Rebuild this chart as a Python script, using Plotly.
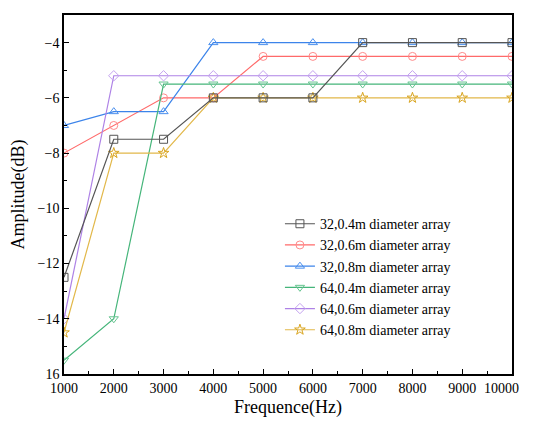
import plotly.graph_objects as go

freq = [1000, 2000, 3000, 4000, 5000, 6000, 7000, 8000, 9000, 10000]
names = ["32,0.4m diameter array", "32,0.6m diameter array", "32,0.8m diameter array",
         "64,0.4m diameter array", "64,0.6m diameter array", "64,0.8m diameter array"]
s32_04 = [-12.5, -7.5, -7.5, -6, -6, -6, -4, -4, -4, -4]
s32_06 = [-8, -7, -6, -6, -4.5, -4.5, -4.5, -4.5, -4.5, -4.5]
s32_08 = [-7, -6.5, -6.5, -4, -4, -4, -4, -4, -4, -4]
s64_04 = [-15.5, -14, -5.5, -5.5, -5.5, -5.5, -5.5, -5.5, -5.5, -5.5]
s64_06 = [-14, -5.2, -5.2, -5.2, -5.2, -5.2, -5.2, -5.2, -5.2, -5.2]
s64_08 = [-14.5, -8, -8, -6, -6, -6, -6, -6, -6, -6]
series = [s32_04, s32_06, s32_08, s64_04, s64_06, s64_08]

yticks = [-4, -6, -8, -10, -12, -14, -16]
ytick_text = ["\u22124", "\u22126", "\u22128", "\u221210", "\u221212", "\u221214", "16"]
xticks = freq
xtick_text = ["1000", "2000", "3000", "4000", "5000", "6000", "7000", "8000", "9000",
              "10000" + "\u00a0" * 6]

line_colors = ["#555555", "#FF6A6A", "#3C84EA", "#45B57A", "#AE82E6", "#E2B84A"]
marker_colors = ["#555555", "#FF8A8A", "#4A8FEE", "#66C490", "#C4A2F0", "#D9A520"]
symbols = ["square-open", "circle-open", "triangle-up-open", "triangle-down-open",
           "diamond-open", "star-open"]

fig = go.Figure()
order = [1, 2, 3, 4, 5, 0]
for i in order:
    fig.add_trace(go.Scatter(
        x=freq, y=series[i], name=names[i], mode="lines+markers",
        line=dict(color=line_colors[i], width=1.2),
        marker=dict(symbol=symbols[i], size=8, color=marker_colors[i],
                    line=dict(width=1, color=marker_colors[i])),
        legendrank=i + 1,
    ))

font_family = "'Liberation Serif', 'Times New Roman', serif"
fig.update_layout(
    width=517, height=410,
    margin=dict(l=56, r=13, t=7, b=44, autoexpand=False),
    plot_bgcolor="white", paper_bgcolor="white",
    font=dict(family=font_family, size=14, color="black"),
    showlegend=True,
    legend=dict(x=0.482, y=0.462, xanchor="left", yanchor="top",
                bgcolor="rgba(0,0,0,0)", font=dict(size=14, family=font_family),
                tracegroupgap=0, itemwidth=30),
    xaxis=dict(
        range=[1000, 10000], tickvals=xticks, ticktext=xtick_text, ticks="inside", ticklen=5,
        tickwidth=1.2, tickcolor="black", showgrid=False, zeroline=False,
        showline=True, linecolor="black", linewidth=1.5, mirror=True, automargin=False,
        ticklabeloverflow="allow",
        minor=dict(dtick=500, tick0=1000, ticks="inside", ticklen=3, tickcolor="black"),
        title=dict(text="Frequence(Hz)", font=dict(size=18, family=font_family), standoff=8),
        tickfont=dict(size=14, family=font_family),
    ),
    yaxis=dict(
        range=[-16, -3], tickvals=yticks, ticktext=ytick_text, ticks="inside", ticklen=5,
        tickwidth=1.2, tickcolor="black", showgrid=False, zeroline=False,
        showline=True, linecolor="black", linewidth=1.5, mirror=True, automargin=False,
        minor=dict(dtick=1, tick0=-16, ticks="inside", ticklen=3, tickcolor="black"),
        title=dict(text="Amplitude(dB)", font=dict(size=18, family=font_family), standoff=8),
        tickfont=dict(size=14, family=font_family),
    ),
)

fig.write_html("out.html")
